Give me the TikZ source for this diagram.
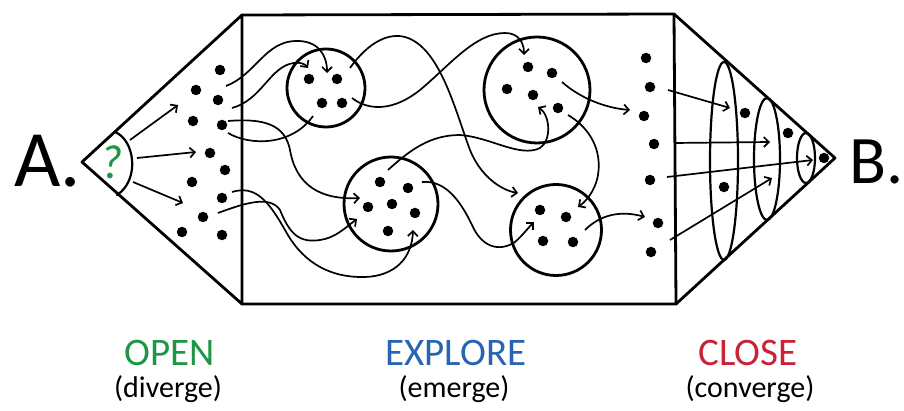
\documentclass[tikz,border=0pt]{standalone}
\usepackage{fontspec}
\setmainfont{Carlito}
\usetikzlibrary{arrows.meta,shapes.geometric}
\definecolor{opengreen}{RGB}{30,150,70}
\definecolor{exploreblue}{RGB}{40,100,180}
\definecolor{closered}{RGB}{200,35,55}
\begin{document}
\begin{tikzpicture}[x=1pt,y=-1pt,
  dot/.style={circle,fill=black,inner sep=0pt,minimum size=10.5pt},
  outline/.style={line width=2.8pt,line join=round,line cap=round},
  bubble/.style={circle,draw,line width=2.8pt,inner sep=0pt},
  ring/.style={ellipse,draw,line width=2.2pt,inner sep=0pt},
  wire/.style={line width=1.7pt},
  arr/.style={wire,-{Straight Barb[length=5pt,width=10pt]}},
  head/.style={font=\fontsize{39}{39}\selectfont,anchor=base},
  sub/.style={font=\fontsize{30}{30}\selectfont,anchor=base},
  big/.style={anchor=base west,inner sep=0pt}
]
\useasboundingbox (0,0) rectangle (904,411);

% ---------- outline ----------
\coordinate (LA) at (82,162);
\coordinate (LT) at (242,15);
\coordinate (LB) at (242,304);
\coordinate (RT) at (674,14);
\coordinate (RB) at (676,304);
\coordinate (RA) at (835,158);
\draw[outline] (LA) -- (LT) -- (LB) -- cycle;
\draw[outline] (LT) -- (RT) -- (RB) -- (LB);
\draw[outline] (RT) -- (RA) -- (RB);

% ---------- A. and B. ----------
\node[big,font=\fontsize{80}{80}\selectfont] (A) at (14,187) {A.};
\node[big,font=\fontsize{68}{68}\selectfont] (B) at (849,184) {B.};

% ---------- lens with question mark ----------
\coordinate (q1) at (115,132);
\coordinate (q2) at (117,195);
\draw[outline,line width=2.2pt] (q1) .. controls (135,140) and (140,180) .. (q2);
\node[text=opengreen,font=\fontsize{48}{48}\selectfont\itshape] (qm) at (112,162) {?};
\coordinate (o1) at (130,140); \coordinate (t1) at (178,105);
\coordinate (o2) at (137,158); \coordinate (t2) at (196,152);
\coordinate (o3) at (133,182); \coordinate (t3) at (183,203);
\draw[arr] (o1) -- (t1);
\draw[arr] (o2) -- (t2);
\draw[arr] (o3) -- (t3);

% ---------- left dots ----------
\foreach \n/\x/\y in {1/220/70,2/196/90,3/218/100,4/193/121,5/222/125,6/210/153,
                       7/225/170,8/192/182,9/222/198,10/203/217,11/182/232,12/222/235}
  \node[dot] (l\n) at (\x,\y) {};

% ---------- bubbles ----------
\node[bubble,minimum size=78pt] (c1) at (326,88) {};
\node[bubble,minimum size=94pt] (c2) at (391,204) {};
\node[bubble,minimum size=106pt] (c3) at (537,90) {};
\node[bubble,minimum size=91pt] (c4) at (556,230) {};
\foreach \n/\x/\y in {1/309/79,2/337/79,3/322/103,4/342/103}
  \node[dot] (d1\n) at (\x,\y) {};
\foreach \n/\x/\y in {1/380/182,2/408/188,3/368/207,4/392/204,5/415/213,6/388/231}
  \node[dot] (d2\n) at (\x,\y) {};
\foreach \n/\x/\y in {1/528/67,2/552/73,3/507/89,4/533/95,5/558/108}
  \node[dot] (d3\n) at (\x,\y) {};
\foreach \n/\x/\y in {1/540/210,2/566/217,3/543/241,4/573/242}
  \node[dot] (d4\n) at (\x,\y) {};

% ---------- column dots ----------
\foreach \n/\x/\y in {1/646/58,2/650/87,3/644/116,4/654/144,5/650/180,6/658/223,7/651/252}
  \node[dot] (r\n) at (\x,\y) {};

% ---------- wandering paths ----------
\coordinate (a0) at (226,86);  \coordinate (a1) at (327,73);
\draw[arr] (a0) .. controls (255,75) and (265,42) .. (295,41) .. controls (318,40) and (327,55) .. (a1);
\coordinate (b0) at (232,108); \coordinate (b1) at (308,68);
\draw[arr] (b0) .. controls (262,100) and (270,66) .. (294,63) .. controls (300,62) and (305,64) .. (b1);
\coordinate (cc0) at (228,121); \coordinate (cc1) at (360,198);
\draw[arr] (cc0) .. controls (265,118) and (285,125) .. (290,150) .. controls (296,185) and (320,200) .. (cc1);
\coordinate (dd0) at (228,133); \coordinate (dd1) at (313,116);
\draw[wire] (dd0) .. controls (250,146) and (292,146) .. (dd1);
\coordinate (e0) at (350,68);  \coordinate (e1) at (518,193);
\draw[arr] (e0) .. controls (370,40) and (390,33) .. (405,37) .. controls (440,47) and (455,110) .. (470,150) .. controls (480,175) and (500,190) .. (e1);
\coordinate (f0) at (352,98);  \coordinate (f1) at (524,55);
\draw[arr] (f0) .. controls (370,112) and (395,110) .. (420,90) .. controls (450,65) and (475,33) .. (505,33) .. controls (518,33) and (524,42) .. (f1);
\coordinate (g0) at (388,170); \coordinate (g1) at (538,107);
\draw[arr] (g0) .. controls (410,150) and (430,135) .. (460,135) .. controls (490,137) and (520,158) .. (540,148) .. controls (552,140) and (550,115) .. (g1);
\coordinate (h0) at (422,182); \coordinate (h1) at (534,222);
\draw[arr] (h0) .. controls (445,180) and (460,200) .. (472,225) .. controls (482,248) and (500,252) .. (515,242) .. controls (522,236) and (528,228) .. (h1);
\coordinate (i0) at (232,192); \coordinate (i1) at (413,230);
\draw[arr] (i0) .. controls (255,185) and (268,200) .. (285,230) .. controls (300,258) and (325,278) .. (365,277) .. controls (395,276) and (412,258) .. (i1);
\coordinate (j0) at (218,213); \coordinate (j1) at (357,219);
\draw[arr] (j0) .. controls (245,203) and (270,195) .. (280,210) .. controls (290,235) and (300,243) .. (320,240) .. controls (335,238) and (345,228) .. (j1);
\coordinate (k0) at (562,82);  \coordinate (k1) at (630,110);
\draw[arr] (k0) .. controls (580,98) and (605,108) .. (k1);
\coordinate (m0) at (568,115); \coordinate (m1) at (578,207);
\draw[arr] (m0) .. controls (590,128) and (602,150) .. (598,175) .. controls (595,192) and (585,202) .. (m1);
\coordinate (n0) at (585,230); \coordinate (n1) at (645,217);
\draw[arr] (n0) .. controls (600,215) and (620,210) .. (n1);

% ---------- converging rings ----------
\node[ring,minimum width=28pt,minimum height=198pt] (e1r) at (724,161) {};
\node[ring,minimum width=26pt,minimum height=122pt] (e2r) at (767,159) {};
\node[ring,minimum width=18pt,minimum height=50pt] (e3r) at (806,158) {};
\foreach \n/\x/\y in {1/745/113,2/788/133,3/824/158,4/724/187}
  \node[dot] (p\n) at (\x,\y) {};
\coordinate (s1) at (668,90);  \coordinate (u1) at (730,108);
\coordinate (s2) at (674,143); \coordinate (u2) at (770,142);
\coordinate (s3) at (667,177); \coordinate (u3) at (813,160);
\coordinate (s4) at (670,240); \coordinate (u4) at (772,178);
\draw[arr] (s1) -- (u1);
\draw[arr] (s2) -- (u2);
\draw[arr] (s3) -- (u3);
\draw[arr] (s4) -- (u4);

% ---------- labels ----------
\node[head,text=opengreen] (open) at (170,365) {OPEN};
\node[sub] (div) at (168,397) {(diverge)};
\node[head,text=exploreblue] (explore) at (456,365) {EXPLORE};
\node[sub] (emg) at (454,397) {(emerge)};
\node[head,text=closered] (close) at (748,365) {CLOSE};
\node[sub] (conv) at (750,397) {(converge)};
\end{tikzpicture}
\end{document}
